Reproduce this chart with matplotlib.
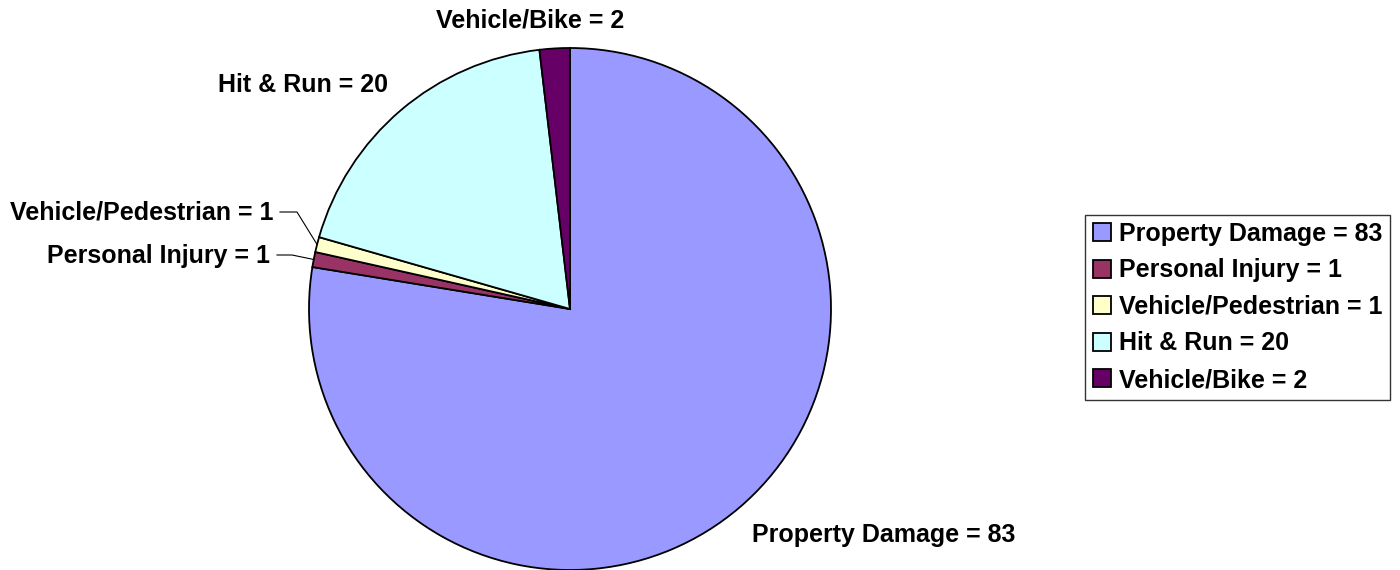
import numpy as np
import matplotlib.pyplot as plt

# data
categories = ['Property Damage', 'Personal Injury', 'Vehicle/Pedestrian', 'Hit & Run', 'Vehicle/Bike']
counts = [83, 1, 1, 20, 2]
colors = ['#9999FF', '#993366', '#FFFFCC', '#CCFFFF', '#660066']
labels = ['%s = %d' % (c, n) for c, n in zip(categories, counts)]

plt.rcParams['font.family'] = ['Liberation Sans', 'DejaVu Sans']
plt.rcParams['font.weight'] = 'bold'

fig = plt.figure(figsize=(14, 5.7), dpi=100)
ax = fig.add_axes([0, 0, 1, 1])

cx, cy, r = 570, 261, 261
wedges, _ = ax.pie(counts, colors=colors, startangle=90, counterclock=False,
                   center=(cx, cy), radius=r, frame=True,
                   wedgeprops=dict(edgecolor='black', linewidth=1.3))
ax.set_xlim(0, 1400)
ax.set_ylim(0, 570)
ax.set_aspect('equal')
ax.axis('off')

fs = 18

# label positions (layout, pixel-like coords)
lab_pos = {
    0: (752, 35, 'left'),
    1: (270, 314, 'right'),
    2: (273, 357, 'right'),
    3: (388, 485, 'right'),
    4: (530, 550, 'center'),
}
for i, (x, y, ha) in lab_pos.items():
    ax.text(x, y, labels[i], ha=ha, va='center', fontsize=fs, fontweight='bold')

# leader lines for the two small slices
starts = {1: (277, 315), 2: (280, 358)}
knees = {1: (292, 315), 2: (297, 358)}
for i in knees:
    w = wedges[i]
    ang = np.deg2rad((w.theta1 + w.theta2) / 2)
    px, py = cx + r * np.cos(ang), cy + r * np.sin(ang)
    (sx, sy), (kx, ky) = starts[i], knees[i]
    ax.plot([sx, kx, px], [sy, ky, py], color='black', lw=0.8)

leg = ax.legend(wedges, labels, loc='center left', bbox_to_anchor=(1085 / 1400, 263 / 570),
                frameon=True, fancybox=False, shadow=False, fontsize=fs,
                handlelength=0.75, handleheight=0.75, handletextpad=0.3,
                labelspacing=0.5, borderpad=0.3, borderaxespad=0)
leg.get_frame().set_edgecolor('black')
leg.get_frame().set_linewidth(1.0)

fig.savefig('out.png', dpi=100)
